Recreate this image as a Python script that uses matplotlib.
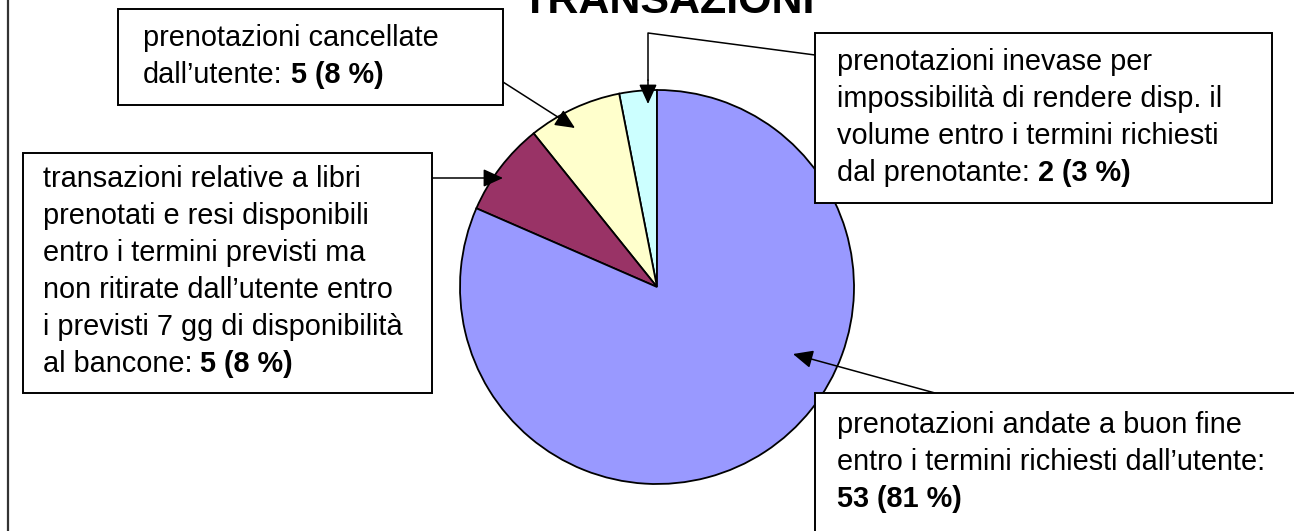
import matplotlib
matplotlib.use("Agg")
import matplotlib.pyplot as plt
from matplotlib.patches import Rectangle

plt.rcParams['font.family'] = ['Liberation Sans', 'DejaVu Sans']

# slices, counter-clockwise from 12 o'clock
counts = [2, 5, 5, 53]
percents = [3, 8, 8, 81]
colors = ["#CCFFFF", "#FFFFCC", "#993366", "#9999FF"]
descriptions = [
    ["prenotazioni inevase per", "impossibilità di rendere disp. il",
     "volume entro i termini richiesti", "dal prenotante:"],
    ["prenotazioni cancellate", "dall’utente:"],
    ["transazioni relative a libri", "prenotati e resi disponibili",
     "entro i termini previsti ma", "non ritirate dall’utente entro",
     "i previsti 7 gg di disponibilità", "al bancone:"],
    ["prenotazioni andate a buon fine",
     "entro i termini richiesti dall’utente:", ""],
]
title = "TRANSAZIONI"

W, H = 1294, 531
FS = 20.8
LINE = 37


def Y(y):
    # pixel rows counted from the top
    return H - y


fig = plt.figure(figsize=(W / 100, H / 100), dpi=100)
ax = fig.add_axes([0, 0, 1, 1])

ax.pie(counts, colors=colors, startangle=90, counterclock=True,
       center=(657, Y(287)), radius=197,
       wedgeprops=dict(edgecolor="black", linewidth=1.3))

ax.set_xlim(0, W)
ax.set_ylim(0, H)
ax.set_aspect("equal")
ax.axis("off")

arrow = dict(arrowstyle="-|>,head_length=0.55,head_width=0.25",
             color="black", lw=1.1, mutation_scale=22, shrinkA=0, shrinkB=0)

# leader lines from each box to its slice
ax.plot([815, 648, 648], [Y(55), Y(33), Y(80)], color="black", lw=1.1)
ax.annotate("", xy=(648, Y(104)), xytext=(648, Y(80)), arrowprops=arrow)
ax.annotate("", xy=(575, Y(128)), xytext=(503, Y(82)), arrowprops=arrow)
ax.annotate("", xy=(503, Y(178)), xytext=(432, Y(178)), arrowprops=arrow)
ax.annotate("", xy=(793, Y(354)), xytext=(935, Y(393)), arrowprops=arrow)

# boxes: (left, top, right, bottom) and first baseline
boxes = [
    ((815, 33, 1272, 203), 837, 70),
    ((118, 9, 503, 105), 143, 46),
    ((23, 153, 432, 393), 43, 187),
    ((815, 393, 1310, 560), 837, 433),
]

for (l, t, r, b), tx, ty in [bx for bx in boxes]:
    ax.add_patch(Rectangle((l, Y(b)), r - l, b - t, facecolor="white",
                           edgecolor="black", lw=1.4, zorder=3))

for (box, tx, ty), lines, n, p in zip(boxes, descriptions, counts, percents):
    value = f"{n} ({p} %)"
    last = None
    for i, line in enumerate(lines):
        if line:
            last = ax.text(tx, Y(ty + i * LINE), line, fontsize=FS,
                           va="baseline", ha="left", zorder=4)
    i = len(lines) - 1
    if lines[-1]:
        ax.annotate(value, xy=(1, 0), xycoords=last, xytext=(8, 0),
                    textcoords="offset pixels", va="bottom", ha="left",
                    fontsize=FS, weight="bold", zorder=4)
    else:
        ax.text(tx, Y(ty + i * LINE), value, fontsize=FS, weight="bold",
                va="baseline", ha="left", zorder=4)

ax.text(668, Y(13), title, ha="center", va="baseline", fontsize=31,
        weight="bold")

ax.plot([8, 8], [0, H], color="#333333", lw=1.6)

fig.savefig("out.png", dpi=100)
